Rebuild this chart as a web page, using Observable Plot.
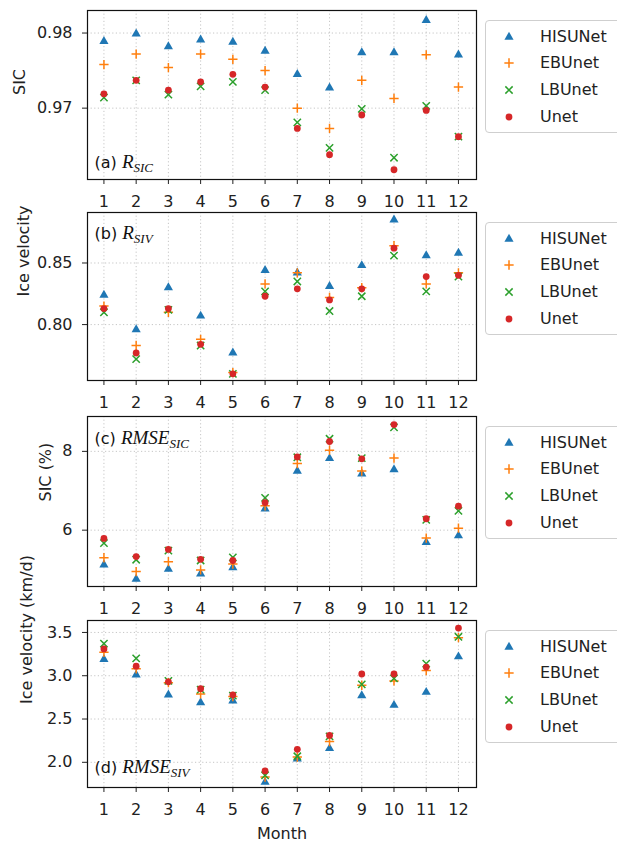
<!DOCTYPE html>
<html><head><meta charset="utf-8">
<script src="https://cdn.jsdelivr.net/npm/d3@7"></script>
<script src="https://cdn.jsdelivr.net/npm/@observablehq/plot@0.6"></script>
<style>
body{margin:0;background:#fff;font-family:"DejaVu Sans",sans-serif;}
#page{position:relative;width:617px;height:844px;overflow:hidden;background:#fff;}
.panel{position:absolute;left:0;}
.legend{position:absolute;left:485px;width:150px;height:113px;border:1px solid #cfcfcf;border-radius:4px;background:#fff;box-sizing:border-box;}
.row{position:absolute;left:0;height:26px;width:150px;}
.row svg{position:absolute;left:13px;top:3px;}
.row span{position:absolute;left:54px;top:0;line-height:26px;font-size:16px;color:#222;white-space:nowrap;}
</style></head><body><div id="page"></div>
<script>
const months = [1,2,3,4,5,6,7,8,9,10,11,12];
const models = ["HISUNet","EBUnet","LBUnet","Unet"];
const colors = ["#1f77b4","#ff7f0e","#2ca02c","#d62728"];
const symbols = ["triangle","plus","times","circle"];

// (a) R_SIC
const rSIC_HISUNet = [0.9789,0.9799,0.9782,0.9791,0.9788,0.9776,0.9745,0.9727,0.9774,0.9774,0.9817,0.9771];
const rSIC_EBUnet  = [0.9758,0.9772,0.9754,0.9772,0.9765,0.9750,0.9700,0.9673,0.9737,0.9713,0.9771,0.9728];
const rSIC_LBUnet  = [0.9714,0.9737,0.9718,0.9729,0.9735,0.9724,0.9681,0.9647,0.9699,0.9634,0.9703,0.9662];
const rSIC_Unet    = [0.9719,0.9737,0.9724,0.9735,0.9745,0.9728,0.9673,0.9638,0.9691,0.9618,0.9697,0.9662];
// (b) R_SIV
const rSIV_HISUNet = [0.824,0.796,0.830,0.807,0.777,0.844,0.842,0.831,0.848,0.885,0.856,0.858];
const rSIV_EBUnet  = [0.815,0.783,0.810,0.788,0.761,0.833,0.842,0.822,0.830,0.864,0.833,0.842];
const rSIV_LBUnet  = [0.810,0.772,0.812,0.783,0.760,0.827,0.835,0.811,0.823,0.856,0.827,0.839];
const rSIV_Unet    = [0.813,0.777,0.813,0.784,0.760,0.823,0.829,0.820,0.829,0.862,0.839,0.840];
// (c) RMSE_SIC (%)
const eSIC_HISUNet = [5.12,4.76,5.01,4.89,5.05,6.54,7.50,7.82,7.43,7.54,5.69,5.86];
const eSIC_EBUnet  = [5.30,4.95,5.20,4.99,5.14,6.62,7.69,8.03,7.50,7.83,5.80,6.05];
const eSIC_LBUnet  = [5.67,5.25,5.48,5.23,5.31,6.82,7.85,8.32,7.83,8.61,6.26,6.49];
const eSIC_Unet    = [5.79,5.33,5.51,5.26,5.23,6.70,7.86,8.25,7.81,8.68,6.29,6.61];
// (d) RMSE_SIV (km/d)
const eSIV_HISUNet = [3.19,3.01,2.78,2.69,2.71,1.77,2.04,2.16,2.77,2.66,2.81,3.22];
const eSIV_EBUnet  = [3.27,3.08,2.92,2.79,2.76,1.83,2.06,2.24,2.89,2.94,3.06,3.44];
const eSIV_LBUnet  = [3.37,3.20,2.94,2.84,2.77,1.85,2.07,2.30,2.90,2.97,3.14,3.45];
const eSIV_Unet    = [3.31,3.11,2.93,2.85,2.78,1.90,2.15,2.31,3.02,3.02,3.10,3.55];

const yTicksA = [0.97, 0.98];
const yTicksB = [0.80, 0.85];
const yTicksC = [6, 8];
const yTicksD = [2.0, 2.5, 3.0, 3.5];

const panels = [
  {tag:"(a)", base:"R", sub:"SIC", ylabel:"SIC", series:[rSIC_HISUNet,rSIC_EBUnet,rSIC_LBUnet,rSIC_Unet],
   domain:[0.9605,0.9830], ticks:yTicksA, fmt:".2f", top:10, bottom:179, tagAt:"bottom", tagDy:-17, ylx:19},
  {tag:"(b)", base:"R", sub:"SIV", ylabel:"Ice velocity", series:[rSIV_HISUNet,rSIV_EBUnet,rSIV_LBUnet,rSIV_Unet],
   domain:[0.7546,0.891], ticks:yTicksB, fmt:".2f", top:212, bottom:380, tagAt:"top", tagDy:21, ylx:23},
  {tag:"(c)", base:"RMSE", sub:"SIC", ylabel:"SIC (%)", series:[eSIC_HISUNet,eSIC_EBUnet,eSIC_LBUnet,eSIC_Unet],
   domain:[4.57,8.885], ticks:yTicksC, fmt:"d", top:416, bottom:586, tagAt:"top", tagDy:22, ylx:45},
  {tag:"(d)", base:"RMSE", sub:"SIV", ylabel:"Ice velocity (km/d)", series:[eSIV_HISUNet,eSIV_EBUnet,eSIV_LBUnet,eSIV_Unet],
   domain:[1.709,3.638], ticks:yTicksD, fmt:".1f", top:620, bottom:787, tagAt:"bottom", tagDy:-20, ylx:26, xlabel:"Month"}
];

const radii = {triangle:3.4, plus:3.1, times:3.4, circle:3.4};
const marginLeft = 87, frameRight = 476;
const page = document.getElementById("page");

function dotMark(rows, i) {
  const sym = symbols[i];
  const filled = sym === "triangle" || sym === "circle";
  return Plot.dot(rows, {x:"month", y:"value", symbol: sym, r: radii[sym],
    fill: filled ? colors[i] : "none", stroke: filled ? "none" : colors[i], strokeWidth: filled ? 0 : 1.5});
}

panels.forEach((p, pi) => {
  const data = [];
  p.series.forEach((arr, i) => arr.forEach((v, j) => data.push({month: months[j], model: models[i], value: v})));
  const mt = 10, mb = p.xlabel ? 57 : 40;
  const h = p.bottom - p.top;
  const marks = [
    Plot.ruleX(months, {x: d => d, stroke:"#b8b8b8", strokeWidth:0.8, strokeDasharray:"1.2,2.4"}),
    Plot.ruleY(p.ticks, {y: d => d, stroke:"#b8b8b8", strokeWidth:0.8, strokeDasharray:"1.2,2.4"}),
    ...models.map((m, i) => dotMark(data.filter(d => d.model === m), i)),
    Plot.frame({stroke:"#111", strokeWidth:1.2}),
    Plot.text([p.ylabel], {text: d => d, frameAnchor:"left", rotate:-90, dx: p.ylx - marginLeft, fontSize:16, fill:"#222"}),
    Plot.text([p.tag], {text: d => d, frameAnchor: p.tagAt + "-left", dx: 7, dy: p.tagDy, textAnchor:"start", lineAnchor:"middle", fontSize:16, fill:"#111"})
  ];
  if (p.xlabel) marks.push(Plot.text([p.xlabel], {text: d => d, frameAnchor:"bottom", dy: 46, lineAnchor:"middle", fontSize:16, fill:"#222"}));
  const svg = Plot.plot({
    width: 617, height: h + mt + mb,
    marginLeft, marginRight: 617 - frameRight, marginTop: mt, marginBottom: mb,
    style: {fontFamily:"DejaVu Sans", fontSize:"16px", color:"#222", background:"transparent", overflow:"visible"},
    x: {domain:[0.49, 12.56], ticks: months, tickFormat: d => String(d), tickSize:5, tickPadding:11, label:null},
    y: {domain: p.domain, ticks: p.ticks, tickFormat: p.fmt, tickSize:5, tickPadding:10, label:null},
    marks
  });
  svg.classList.add("panel");
  svg.style.top = (p.top - mt) + "px";
  page.appendChild(svg);

  // rich panel tag: "(a) R_SIC"
  d3.select(svg).selectAll("text").filter(function() { return this.textContent === p.tag; }).each(function() {
    const t = d3.select(this);
    t.selectAll("*").remove();
    t.text(null);
    t.append("tspan").text(p.tag + " ");
    t.append("tspan").attr("font-family","Liberation Serif").attr("font-style","italic").attr("font-size",19).text(p.base);
    t.append("tspan").attr("font-family","Liberation Serif").attr("font-style","italic").attr("font-size",13).attr("dy",4).text(p.sub);
  });

  // legend
  const lg = document.createElement("div");
  lg.className = "legend";
  lg.style.top = (p.top + 9.5) + "px";
  models.forEach((m, i) => {
    const row = document.createElement("div");
    row.className = "row";
    row.style.top = (16 + i * 26.7 - 13) + "px";
    const s = d3.create("svg").attr("width", 20).attr("height", 20);
    const symMap = {triangle: d3.symbolTriangle, plus: d3.symbolPlus, times: d3.symbolTimes, circle: d3.symbolCircle};
    const sym = symbols[i];
    const filled = sym === "triangle" || sym === "circle";
    const r = radii[sym];
    s.append("path").attr("transform","translate(10,10)")
      .attr("d", d3.symbol(symMap[sym], Math.PI * r * r)())
      .attr("fill", filled ? colors[i] : "none").attr("stroke", filled ? "none" : colors[i]).attr("stroke-width", 1.5);
    row.appendChild(s.node());
    const sp = document.createElement("span");
    sp.textContent = m;
    row.appendChild(sp);
    lg.appendChild(row);
  });
  page.appendChild(lg);
});
</script>
</body></html>
